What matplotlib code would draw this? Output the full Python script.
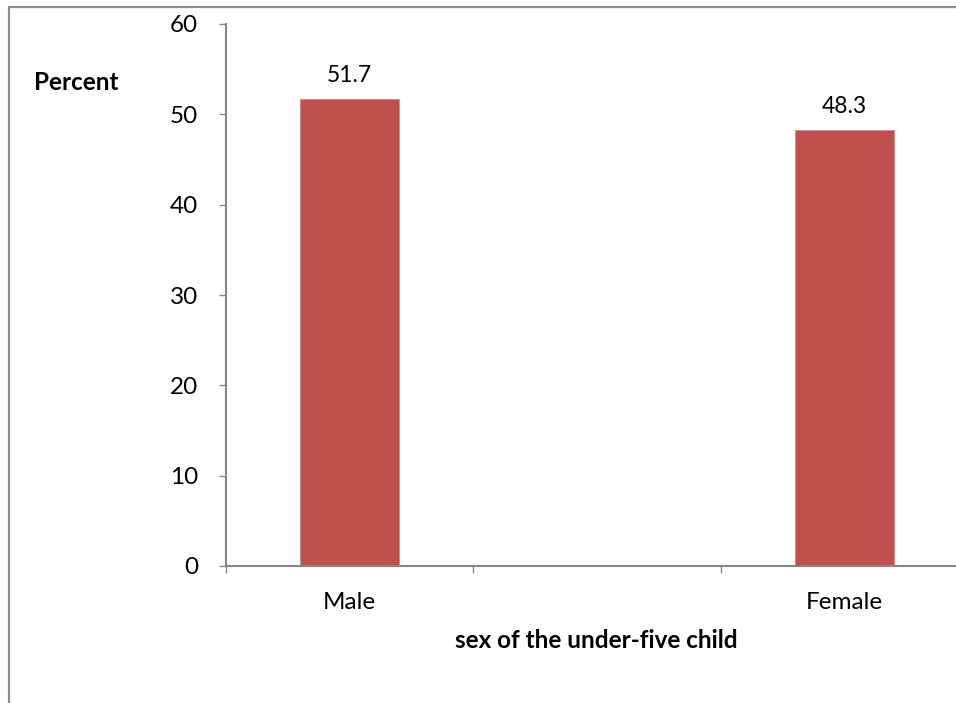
import matplotlib
matplotlib.use("Agg")
import matplotlib.pyplot as plt
import numpy as np
from matplotlib.patches import Rectangle

# Category slots as in the source chart (one empty slot between the bars)
categories = ["Male", "", "Female"]
percent = [51.7, np.nan, 48.3]
y_ticks = [0, 10, 20, 30, 40, 50, 60]

plt.rcParams["font.family"] = ["Lato", "DejaVu Sans"]

W, H = 956, 703
fig = plt.figure(figsize=(W / 100, H / 100), dpi=100)

# outer chart border (clipped on the right / bottom like the screenshot)
fig.patches.append(Rectangle((8.5 / W, -0.05), 1.1, 1 - 7.5 / H + 0.05,
                             transform=fig.transFigure, fill=False,
                             edgecolor="#8c8c8c", linewidth=1.6))

ax = fig.add_axes([226 / W, 1 - 566 / H, 742 / W, (566 - 24) / H])
x = np.arange(len(categories))
bars = ax.bar(x, percent, width=0.4, color="#C0504D", edgecolor="#D08A88",
              linewidth=0.6)

for xi, v in zip(x, percent):
    if np.isnan(v):
        continue
    ax.text(xi, v + 2.6, f"{v:.1f}", ha="center", va="center", fontsize=16.5)

ax.set_xlim(-0.5, len(categories) - 0.5)
ax.set_ylim(0, 60)
ax.set_yticks(y_ticks)
ax.tick_params(axis="y", labelsize=17.5, length=5, width=1, color="#868686",
               direction="out", pad=15)

# tick marks on category boundaries, labels on category centres
ax.set_xticks(np.arange(len(categories) + 1) - 0.5)
ax.set_xticklabels([])
ax.set_xticks(x, minor=True)
ax.set_xticklabels(categories, minor=True)
ax.tick_params(axis="x", which="major", length=5, width=1, color="#868686",
               direction="out")
ax.tick_params(axis="x", which="minor", length=0, labelsize=17.5, pad=19)

for side in ["top", "right"]:
    ax.spines[side].set_visible(False)
for side in ["left", "bottom"]:
    ax.spines[side].set_color("#868686")
    ax.spines[side].set_linewidth(1.5)

fig.text(34 / W, 1 - 83 / H, "Percent", fontsize=17.5, fontweight="bold",
         ha="left", va="center")
fig.text(596 / W, 1 - 640 / H, "sex of the under-five child", fontsize=17.5,
         fontweight="bold", ha="center", va="center")

fig.savefig("out.png", dpi=100)
